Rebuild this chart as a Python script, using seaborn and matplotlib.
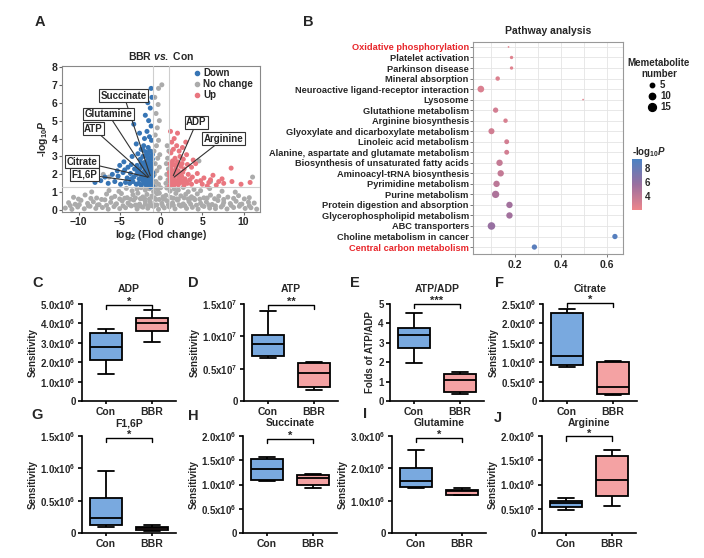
import numpy as np
import pandas as pd
import matplotlib
matplotlib.use("Agg")
import matplotlib.pyplot as plt
import seaborn as sns
from matplotlib.colors import LinearSegmentedColormap, Normalize
from matplotlib.cm import ScalarMappable
from matplotlib.lines import Line2D
from matplotlib.ticker import MultipleLocator

# ---------------- panel A : volcano ----------------
grey_x = [-11.6, -10.8, -10.1, -9.3, -8.6, -7.9, -7.1, -6.4, -5.7, -5.0, -4.3, -3.6, -2.9, -2.2, -1.6, -0.9, -0.3,
          0.4, 1.0, 1.7, 2.4, 3.1, 3.8, 4.5, 5.2, 5.9, 6.6, 7.3, 8.0, 8.8, 9.5, 10.2, 10.9, 11.6,
          -11.0, -9.9, -8.8, -7.7, -6.6, -5.5, -4.6, -3.8, -3.1, -2.5, -1.9, -1.2, -0.5, 0.2,
          0.9, 1.5, 2.2, 2.9, 3.6, 4.3, 5.0, 5.8, 6.6, 7.5, 8.5, 9.6, 10.7,
          -11.2, -10.4, -9.7, -8.9, -8.2, -7.5, -6.8, -6.1, -5.4, -4.7, -4.0, -3.3, -2.6, -1.9, -1.3, -0.6,
          0.1, 0.7, 1.4, 2.0, 2.7, 3.4, 4.1, 4.8, 5.5, 6.2, 6.9, 7.6, 8.4, 9.1, 9.8, 10.6, 11.3,
          -10.0, -8.5, -7.2, -6.0, -5.0, -4.4, -3.7, -3.1, -2.5, -2.0, -1.4, -0.8, -0.2,
          0.4, 1.5, 2.1, 2.8, 3.3, 4.0, 4.7, 5.6, 6.5, 7.6, 8.8, 10.1,
          -10.6, -9.2, -7.8, -6.6, -5.6, -4.8, -4.1, -3.4, -2.8, -2.2, -1.7, -1.1, -0.5,
          0.6, 1.2, 1.8, 2.4, 3.0, 3.7, 4.4, 5.2, 6.0, 7.0, 8.1, 9.4, 10.7,
          -8.4, -6.3, -5.1, -4.2, -3.5, -2.9, -2.4, -1.9, -1.4, -0.9, -0.4,
          0.7, 1.1, 1.6, 2.1, 2.7, 3.3, 4.0, 4.8, 5.9, 7.4, 9.0,
          -3.0, -2.3, -1.5, -0.8, 0.3, 1.0, 1.9, 2.6, 3.5, -0.2, -0.7,
          -0.9, -0.6, -0.3, -0.1, -0.8, -0.5, -0.2, -0.7, -0.4, -0.15, -0.85, -0.55, -0.3, -0.7, -0.45, -0.2,
          -0.6, -0.35, -0.75, -0.3, 0.1, 0.6, 0.85, 0.7, 0.9, 0.65, 0.8, 0.95, 0.75, -0.05, 0.25,
          -7.0, -6.3, 4.6, 11.1, 6.0]
grey_y = [0.12, 0.05, 0.18, 0.08, 0.22, 0.10, 0.15, 0.06, 0.20, 0.09, 0.14, 0.24, 0.07, 0.17, 0.11, 0.21, 0.05,
          0.13, 0.19, 0.08, 0.23, 0.10, 0.16, 0.06, 0.21, 0.12, 0.09, 0.18, 0.07, 0.15, 0.22, 0.10, 0.14, 0.06,
          0.26, 0.31, 0.24, 0.29, 0.27, 0.32, 0.25, 0.30, 0.28, 0.23, 0.33, 0.26, 0.29, 0.24,
          0.31, 0.27, 0.30, 0.25, 0.33, 0.28, 0.26, 0.30, 0.24, 0.29, 0.27, 0.32, 0.25,
          0.42, 0.33, 0.55, 0.38, 0.47, 0.31, 0.58, 0.44, 0.36, 0.52, 0.40, 0.57, 0.34, 0.49, 0.45, 0.60,
          0.38, 0.53, 0.41, 0.56, 0.35, 0.48, 0.59, 0.39, 0.46, 0.32, 0.54, 0.43, 0.37, 0.50, 0.34, 0.45, 0.40,
          0.62, 0.66, 0.60, 0.68, 0.63, 0.67, 0.61, 0.69, 0.64, 0.66, 0.62, 0.68, 0.60,
          0.65, 0.67, 0.61, 0.69, 0.63, 0.66, 0.62, 0.68, 0.64, 0.60, 0.66, 0.63,
          0.72, 0.85, 0.68, 0.90, 0.77, 0.93, 0.70, 0.86, 0.95, 0.74, 0.88, 0.79, 0.92,
          0.83, 0.71, 0.94, 0.80, 0.89, 0.75, 0.91, 0.69, 0.84, 0.78, 0.73, 0.81, 0.70,
          1.02, 1.10, 1.05, 1.22, 1.08, 1.18, 1.26, 1.12, 1.20, 1.04, 1.15,
          1.24, 1.07, 1.19, 1.13, 1.27, 1.03, 1.16, 1.09, 1.21, 1.06, 1.01,
          0.28, 0.65, 0.25, 0.30, 0.62, 0.27, 0.63, 0.29, 0.64, 0.95, 1.28,
          1.5, 1.6, 1.45, 1.8, 2.0, 2.2, 2.4, 2.6, 2.9, 3.1, 3.3, 3.6, 3.9, 4.2, 4.6, 5.0,
          5.4, 5.9, 6.3, 6.8, 7.0, 1.5, 1.7, 2.0, 2.3, 2.6, 2.9, 3.3, 3.6, 1.25, 0.75,
          2.0, 1.85, 2.75, 1.85, 1.6]
down_x = [-1.05, -1.2, -1.4, -1.6, -1.85, -2.1, -2.4, -2.7, -3.0, -3.4, -3.8, -4.3, -4.9, -5.6, -6.4, -7.3, -8.0,
          -1.1, -1.3, -1.55, -1.8, -2.05, -2.35, -2.65, -2.95, -3.3, -3.7, -4.1, -4.6, -5.2, -5.9, -6.8,
          -1.0, -1.25, -1.5, -1.75, -2.0, -2.3, -2.6, -2.9, -3.2, -3.6, -4.0, -4.5, -5.0,
          -1.1, -1.35, -1.6, -1.9, -2.2, -2.5, -2.8, -3.5,
          -1.05, -1.3, -1.55, -1.8, -2.1, -2.4, -3.0,
          -1.15, -1.4, -1.7, -2.0, -2.6, -1.2, -1.5, -1.9, -1.3, -1.6, -1.1, -1.2, -3.3, -1.25,
          -1.15, -1.45, -1.7, -1.95, -2.25, -1.0, -1.35, -1.65, -1.9, -2.2, -2.5, -1.2, -1.45,
          -1.75, -2.05, -2.4, -1.05, -1.3, -1.6, -1.85, -2.15, -3.6, -4.4, -5.3, -2.85]
down_y = [1.35, 1.45, 1.38, 1.5, 1.42, 1.55, 1.4, 1.5, 1.45, 1.6, 1.5, 1.55, 1.45, 1.6, 1.5, 1.65, 1.55,
          1.7, 1.85, 1.75, 1.95, 1.8, 1.9, 1.75, 2.0, 1.85, 2.05, 1.8, 2.1, 1.9, 2.0, 1.85,
          2.1, 2.25, 2.15, 2.35, 2.2, 2.45, 2.3, 2.5, 2.3, 2.55, 2.4, 2.7, 2.5,
          2.6, 2.75, 2.9, 2.7, 3.0, 2.85, 3.15, 3.0,
          3.1, 3.3, 3.5, 3.25, 3.6, 3.4, 3.7,
          3.9, 4.1, 4.4, 4.0, 4.3, 4.7, 5.0, 5.3, 5.7, 6.0, 6.3, 6.8, 4.8, 1.3,
          1.55, 1.6, 1.4, 1.62, 1.68, 1.9, 2.02, 2.0, 2.1, 1.98, 2.08, 2.4, 2.55,
          2.6, 2.5, 2.65, 2.85, 2.95, 3.15, 3.05, 3.35, 1.75, 2.25, 2.2, 2.2]
up_x = [1.05, 1.3, 1.55, 1.8, 2.1, 2.4, 2.8, 3.2, 3.7, 4.3, 5.0, 5.8, 6.7, 7.6, 8.6, 9.7, 10.8,
        1.1, 1.35, 1.6, 1.9, 2.2, 2.5, 2.9, 3.3, 3.8, 4.4, 5.2, 6.3, 7.4,
        1.0, 1.25, 1.5, 1.8, 2.1, 2.4, 2.8, 3.2, 3.7, 4.2, 8.5,
        1.1, 1.4, 1.7, 2.0, 2.3, 2.7, 3.1, 1.2, 1.5, 1.9, 2.2, 2.6, 1.3, 1.6, 2.0, 1.15, 3.0,
        1.15, 1.45, 1.7, 2.0, 2.3, 2.65, 1.05, 1.4, 1.65, 1.95, 2.3, 2.65,
        3.0, 1.2, 1.55, 1.85, 2.2, 2.55, 3.5, 4.8, 5.6, 6.0, 7.0, 3.9]
up_y = [1.35, 1.45, 1.38, 1.5, 1.42, 1.55, 1.4, 1.5, 1.45, 1.6, 1.45, 1.55, 1.4, 1.5, 1.6, 1.45, 1.55,
        1.7, 1.85, 1.75, 1.95, 1.8, 1.9, 1.75, 2.0, 1.85, 2.05, 1.8, 1.95, 1.75,
        2.1, 2.25, 2.15, 2.35, 2.2, 2.45, 2.3, 2.55, 2.4, 2.6, 2.35,
        2.6, 2.75, 2.9, 2.7, 3.0, 2.85, 3.1, 3.2, 3.4, 3.6, 3.3, 3.5, 3.8, 4.0, 4.3, 4.4, 3.8,
        1.55, 1.62, 1.6, 1.65, 1.68, 1.65, 1.9, 2.0, 2.05, 2.1, 2.0, 2.12,
        1.62, 2.45, 2.55, 2.5, 2.6, 2.6, 1.7, 1.65, 1.35, 1.7, 1.6, 2.8]

# labelled metabolites: (name, point x, point y, label x, label y)
marked = [("Succinate", -1.3, 1.93, -4.5, 6.4),
          ("Glutamine", -1.45, 1.85, -6.4, 5.37),
          ("ATP", -1.6, 1.83, -8.2, 4.55),
          ("Citrate", -1.6, 1.85, -9.6, 2.7),
          ("F1,6P", -3.7, 1.65, -9.3, 2.0),
          ("ADP", 1.49, 1.93, 4.3, 4.9),
          ("Arginine", 1.6, 1.85, 7.6, 4.0)]

# ---------------- panel B : pathway analysis ----------------
pathways = ["Oxidative phosphorylation", "Platelet activation", "Parkinson disease", "Mineral absorption",
            "Neuroactive ligand-receptor interaction", "Lysosome", "Glutathione metabolism",
            "Arginine biosynthesis", "Glyoxylate and dicarboxylate metabolism", "Linoleic acid metabolism",
            "Alanine, aspartate and glutamate metabolism", "Biosynthesis of unsaturated fatty acids",
            "Aminoacyl-tRNA biosynthesis", "Pyrimidine metabolism", "Purine metabolism",
            "Protein digestion and absorption", "Glycerophospholipid metabolism", "ABC transporters",
            "Choline metabolism in cancer", "Central carbon metabolism"]
ratio = [0.174, 0.187, 0.187, 0.127, 0.054, 0.497, 0.118, 0.161, 0.100, 0.166,
         0.166, 0.135, 0.140, 0.122, 0.118, 0.178, 0.178, 0.100, 0.635, 0.286]
met_count = [1, 3, 3, 5, 11, 1, 7, 5, 9, 6, 6, 10, 10, 10, 13, 10, 10, 14, 7, 7]
path_logp = [2.5, 2.6, 2.6, 2.8, 2.9, 2.5, 3.2, 3.0, 3.3, 3.2, 3.2, 3.8, 3.9, 4.2, 4.8, 5.3, 5.3, 5.8, 8.8, 8.6]
red_pathways = ["Oxidative phosphorylation", "Central carbon metabolism"]

# ---------------- panels C-J : box plots, [min, q1, median, q3, max] ----------------
adp_con = [1.39, 2.09, 2.76, 3.50, 3.69]
adp_bbr = [3.05, 3.62, 4.02, 4.30, 4.69]
atp_con = [0.67, 0.69, 0.88, 1.02, 1.39]
atp_bbr = [0.17, 0.22, 0.43, 0.59, 0.61]
ratio_con = [1.96, 2.71, 3.41, 3.78, 4.55]
ratio_bbr = [0.38, 0.46, 1.07, 1.41, 1.50]
cit_con = [0.88, 0.93, 1.17, 2.27, 2.38]
cit_bbr = [0.16, 0.18, 0.36, 1.00, 1.03]
f16p_con = [0.09, 0.12, 0.23, 0.54, 0.96]
f16p_bbr = [0.035, 0.04, 0.083, 0.10, 0.12]
suc_con = [1.07, 1.10, 1.31, 1.53, 1.56]
suc_bbr = [0.92, 1.00, 1.14, 1.20, 1.22]
gln_con = [1.39, 1.42, 1.60, 2.00, 2.56]
gln_bbr = [1.17, 1.18, 1.29, 1.34, 1.39]
arg_con = [0.48, 0.54, 0.61, 0.66, 0.72]
arg_bbr = [0.55, 0.77, 1.10, 1.58, 1.71]

# letter, title, con, bbr, scale, ticks, y label, stars, bracket height, left px, top px
box_panels = [
    ("C", "ADP", adp_con, adp_bbr, 1e6, [0, 1, 2, 3, 4, 5], "Sensitivity", "*", 4.95, 82, 304),
    ("D", "ATP", atp_con, atp_bbr, 1e7, [0, 0.5, 1.0, 1.5], "Sensitivity", "**", 1.49, 244, 304),
    ("E", "ATP/ADP", ratio_con, ratio_bbr, 1, [0, 1, 2, 3, 4, 5], "Folds of ATP/ADP", "***", 5.0, 390, 304),
    ("F", "Citrate", cit_con, cit_bbr, 1e6, [0, 0.5, 1.0, 1.5, 2.0, 2.5], "Sensitivity", "*", 2.53, 543, 304),
    ("G", "F1,6P", f16p_con, f16p_bbr, 1e6, [0, 0.5, 1.0, 1.5], "Sensitivity", "*", 1.47, 82, 436),
    ("H", "Succinate", suc_con, suc_bbr, 1e6, [0, 0.5, 1.0, 1.5, 2.0], "Sensitivity", "*", 1.94, 243, 436),
    ("I", "Glutamine", gln_con, gln_bbr, 1e6, [0, 1.0, 2.0, 3.0], "Sensitivity", "*", 2.95, 392, 436),
    ("J", "Arginine", arg_con, arg_bbr, 1e6, [0, 0.5, 1.0, 1.5, 2.0], "Sensitivity", "*", 1.99, 542, 436),
]

sns.set_theme(style="ticks")
plt.rcParams["font.family"] = ["Liberation Sans", "DejaVu Sans"]
plt.rcParams["font.weight"] = "bold"
plt.rcParams["axes.labelweight"] = "bold"
plt.rcParams["axes.titleweight"] = "bold"
plt.rcParams["mathtext.fontset"] = "custom"
plt.rcParams["mathtext.rm"] = "Liberation Sans:bold"
plt.rcParams["mathtext.it"] = "Liberation Sans:italic:bold"
plt.rcParams["mathtext.bf"] = "Liberation Sans:bold"

W, H = 704, 558
fig = plt.figure(figsize=(W / 100, H / 100), dpi=100)


def px_axes(x0, y0, x1, y1):
    return fig.add_axes([x0 / W, 1 - y1 / H, (x1 - x0) / W, (y1 - y0) / H])


def fmt(v, scale):
    if v == 0:
        return "0"
    if scale == 1:
        return f"{v:g}"
    e = int(round(np.log10(scale)))
    return f"{v:.1f}x10$^{{{e}}}$"


# ----- A -----
volc = pd.DataFrame({
    "fc": grey_x + down_x + up_x,
    "logp": grey_y + down_y + up_y,
    "group": ["No change"] * len(grey_x) + ["Down"] * len(down_x) + ["Up"] * len(up_x),
})
pal_v = {"Down": "#3775B5", "No change": "#ABABAB", "Up": "#E9767F"}
axA = px_axes(62, 66, 260, 212)
sns.scatterplot(data=volc, x="fc", y="logp", hue="group", palette=pal_v, s=13,
                linewidth=0, legend=False, ax=axA)
axA.axhline(1.3, color="#CFCFCF", lw=0.8, zorder=3)
axA.axvline(-1, color="#CFCFCF", lw=0.8, zorder=3)
axA.axvline(1, color="#CFCFCF", lw=0.8, zorder=3)
for name, px, py, tx, ty in marked:
    axA.annotate(name, xy=(px, py), xytext=(tx, ty), ha="center", va="center", fontsize=7,
                 bbox=dict(boxstyle="square,pad=0.15", fc="white", ec="#333333", lw=0.8),
                 arrowprops=dict(arrowstyle="-", color="#333333", lw=0.8, shrinkA=0, shrinkB=0),
                 zorder=5)
axA.set_xlim(-12, 12)
axA.set_ylim(-0.1, 8.05)
axA.set_xticks([-10, -5, 0, 5, 10])
axA.set_yticks(range(9))
axA.tick_params(labelsize=7.5, length=2, width=0.8, pad=1.5, color="#666666")
for s in axA.spines.values():
    s.set_color("#888888")
    s.set_linewidth(0.8)
axA.set_xlabel("log$_{2}$ (Flod change)", fontsize=7.5, labelpad=1)
axA.set_ylabel("-log$_{10}$$P$", fontsize=7.5, labelpad=1)
axA.set_title("BBR $vs.$ Con", fontsize=7.5, pad=4)
leg_h = [Line2D([], [], marker="o", ls="", color=pal_v[k], markersize=3) for k in ["Down", "No change", "Up"]]
axA.legend(leg_h, ["Down", "No change", "Up"], loc="upper right", bbox_to_anchor=(1.0, 1.03),
           frameon=False, fontsize=7, handletextpad=0.2, labelspacing=0.1, borderpad=0.2, handlelength=1)

# ----- B -----
path_df = pd.DataFrame({"pathway": pathways, "ratio": ratio, "count": met_count, "logp": path_logp})
cmap = LinearSegmentedColormap.from_list("pb", ["#EE868B", "#9A6F9F", "#4B82C3"])
norm = Normalize(2.0, 9.3)
axB = px_axes(473, 42, 623, 254)
sns.scatterplot(data=path_df, x="ratio", y="pathway", hue="logp", palette=cmap, hue_norm=norm,
                size="count", sizes=(1.5, 32), size_norm=(1, 15), linewidth=0, legend=False,
                ax=axB, zorder=3)
axB.set_ylim(len(pathways) - 0.34, -0.47)
axB.set_xlim(0.02, 0.67)
axB.set_xticks([0.2, 0.4, 0.6])
axB.xaxis.set_minor_locator(MultipleLocator(0.1))
axB.grid(True, which="both", color="#E4E4E4", lw=0.6)
axB.set_axisbelow(True)
axB.set_yticks(range(len(pathways)))
axB.set_yticklabels(pathways, fontsize=6.7)
for lab in axB.get_yticklabels():
    if lab.get_text() in red_pathways:
        lab.set_color("#E8262B")
axB.tick_params(axis="y", length=2, width=0.6, pad=1, color="#666666")
axB.tick_params(axis="x", which="major", labelsize=7.5, length=2, width=0.6, pad=2, color="#666666")
axB.tick_params(axis="x", which="minor", length=0)
axB.set_xlabel("")
axB.set_ylabel("")
for s in axB.spines.values():
    s.set_color("#999999")
    s.set_linewidth(0.8)
axB.set_title("Pathway analysis", fontsize=7.5, pad=6)

size_h = [Line2D([], [], marker="o", ls="", color="black",
                 markersize=np.sqrt(1.5 + 30.5 * (n - 1) / 14)) for n in [5, 10, 15]]
leg_b = fig.legend(size_h, ["5", "10", "15"], title="Memetabolite\nnumber", loc="upper left",
                   bbox_to_anchor=(623 / W, 1 - 53 / H), frameon=False, fontsize=7, title_fontsize=7,
                   handletextpad=0.3, labelspacing=0.1, borderpad=0, handlelength=1.0,
                   alignment="center")
leg_b.get_title().set_multialignment("center")

cax = px_axes(632, 159, 642, 210)
cb = fig.colorbar(ScalarMappable(norm=norm, cmap=cmap), cax=cax, ticks=[4, 6, 8])
cb.outline.set_visible(False)
cax.tick_params(labelsize=7, length=0, pad=2)
cax.set_title("-log$_{10}$$P$", fontsize=7, loc="left", pad=3)

# ----- C-J -----
pal_box = ["#79A9DF", "#F4A2A3"]
for letter, title, con, bbr, scale, ticks, ylab, stars, brk, x0, y0 in box_panels:
    ax = px_axes(x0, y0, x0 + 94, y0 + 97)
    df = pd.DataFrame({"group": ["Con"] * len(con) + ["BBR"] * len(bbr),
                       "value": [v * scale for v in con + bbr]})
    sns.boxplot(data=df, x="group", y="value", hue="group", order=["Con", "BBR"],
                hue_order=["Con", "BBR"], palette=pal_box, saturation=1, whis=(0, 100),
                width=0.68, linewidth=1.3, linecolor="black", legend=False, ax=ax)
    top = ticks[-1] * scale
    ax.set_xlim(-0.52, 1.52)
    ax.set_ylim(0, top)
    ax.set_yticks([t * scale for t in ticks])
    ax.set_yticklabels([fmt(t, scale) for t in ticks], fontsize=7)
    ax.tick_params(axis="y", length=3, width=1.2, pad=1.5, color="black")
    ax.tick_params(axis="x", labelsize=7.5, length=2, width=1.2, pad=2, color="black")
    sns.despine(ax=ax)
    for s in ["left", "bottom"]:
        ax.spines[s].set_linewidth(1.2)
        ax.spines[s].set_color("black")
    ax.set_xlabel("")
    ax.set_ylabel(ylab, fontsize=7, labelpad=2)
    b = brk * scale
    d = 0.045 * top
    ax.plot([0, 0, 1, 1], [b - d, b, b, b - d], color="black", lw=1.0, clip_on=False)
    ax.text(0.5, b - 0.02 * top, stars, ha="center", va="bottom", fontsize=8)
    off = 15 if y0 < 400 else 13
    ax.text(0.5, 1 + off / 97, title, transform=ax.transAxes, ha="center", va="center", fontsize=7.5)

# panel letters
letters = {"A": (40, 22), "B": (308, 22), "C": (38, 283), "D": (193, 283), "E": (355, 283),
           "F": (500, 283), "G": (37, 415), "H": (193, 416), "I": (365, 414), "J": (498, 418)}
for k, (lx, ly) in letters.items():
    fig.text(lx / W, 1 - ly / H, k, fontsize=10.5, fontweight="bold", ha="center", va="center")

fig.savefig("out.png", dpi=100)
